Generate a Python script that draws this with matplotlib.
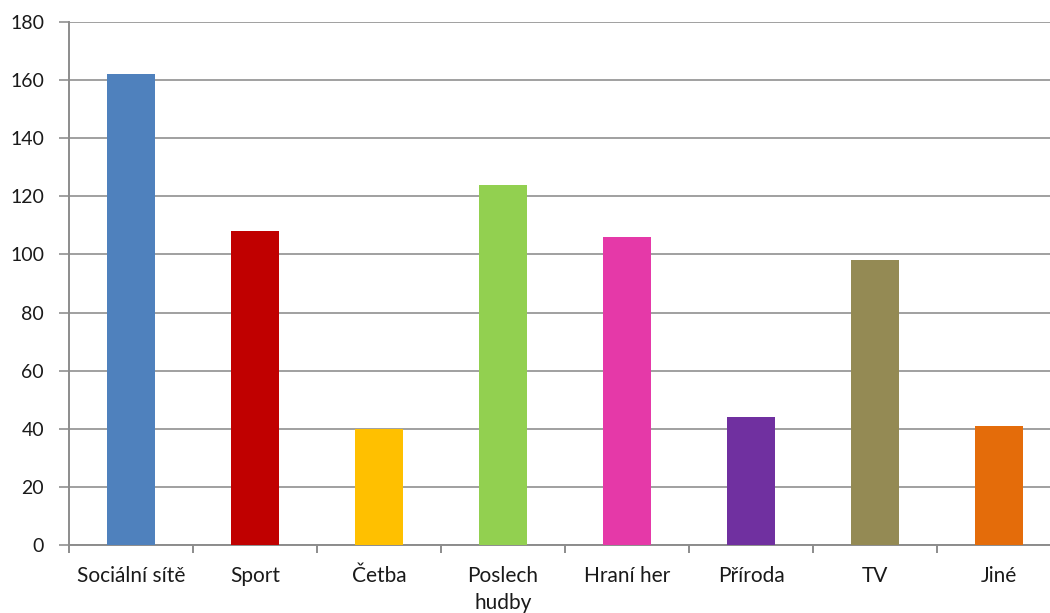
import matplotlib.pyplot as plt
import numpy as np

categories = ["Sociální sítě", "Sport", "Četba", "Poslech\nhudby", "Hraní her", "Příroda", "TV", "Jiné"]
values = [162, 108, 40, 124, 106, 44, 98, 41]
colors = ["#4F81BD", "#C00000", "#FFC000", "#92D050", "#E539A8", "#7030A0", "#948A54", "#E46C0A"]

plt.rcParams["font.family"] = ["Lato", "DejaVu Sans"]

fig = plt.figure(figsize=(10.5, 6.13), dpi=100)
# axes runs slightly past the right edge, as in the cropped original
ax = fig.add_axes([69 / 1050, 68 / 613, 992 / 1050, 523 / 613])

x = np.arange(len(categories))
ax.bar(x, values, width=0.39, color=colors, zorder=3)

ax.set_xlim(-0.5, len(categories) - 0.5)
ax.set_ylim(0, 180)
ax.set_yticks(np.arange(0, 181, 20))
ax.grid(axis="y", color="#a0a0a0", lw=1.4, zorder=0)

for s in ["top", "right"]:
    ax.spines[s].set_visible(False)
for s in ["left", "bottom"]:
    ax.spines[s].set_color("#8c8c8c")
    ax.spines[s].set_linewidth(1.4)

ax.set_xticks(x)
ax.set_xticklabels(categories, fontsize=15, linespacing=1.45, va="top", color="#1a1a1a")
ax.set_xticks(np.arange(-0.5, len(categories), 1), minor=True)
ax.tick_params(axis="x", which="major", length=0, pad=15)
ax.tick_params(axis="x", which="minor", length=6, color="#8c8c8c", width=1.4)
ax.tick_params(axis="y", length=7, color="#a0a0a0", width=1.4, labelsize=14, pad=11,
               labelcolor="#1a1a1a")

fig.savefig("out.png", dpi=100)
